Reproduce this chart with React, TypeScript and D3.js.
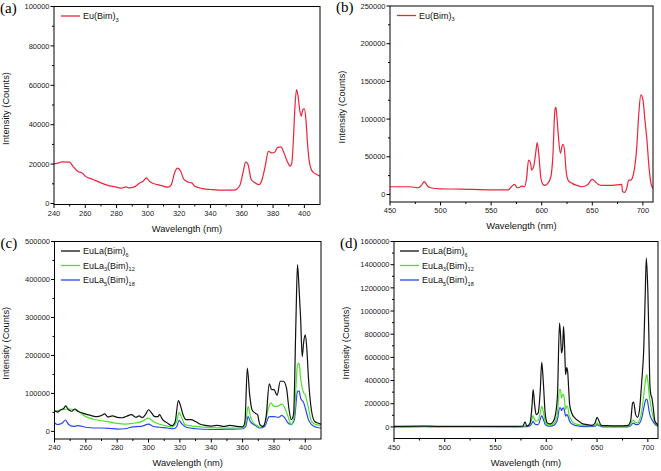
import { useEffect, useRef } from 'react';
import * as d3 from 'd3';

// ---- (a) excitation spectrum, Eu(Bim)3 ----
const waveA = [240, 243, 245, 250, 252, 255, 258, 260, 265, 270, 275, 280, 283, 286, 288, 291, 295, 297, 299, 301, 303, 306, 310, 313, 315, 317, 319, 321, 323, 326, 328, 330, 335, 340, 345, 350, 355, 357, 359, 361, 362.5, 364, 366, 368, 371, 373, 375, 377, 379, 381, 383, 385, 387, 389, 391, 392, 393, 394, 395, 396, 397, 398, 399, 400, 401, 402, 403, 405, 408, 410];
const intA = [20100, 20600, 21100, 21000, 19000, 16400, 15500, 13900, 12200, 10500, 9100, 8300, 7800, 8400, 7900, 8300, 10500, 11300, 13000, 11300, 10300, 9600, 8800, 8300, 9600, 15500, 18000, 16400, 12200, 10800, 10500, 8800, 7600, 7100, 6800, 6800, 6800, 7400, 9600, 16400, 21100, 19800, 12200, 10800, 9600, 12200, 19000, 26500, 25700, 26000, 28500, 28700, 25700, 21500, 19000, 20600, 32400, 49300, 57800, 54400, 47600, 44300, 47600, 48000, 42600, 30700, 22300, 16400, 14700, 13900];

// ---- (b) emission spectrum, Eu(Bim)3 ----
const waveB = [450, 470, 478, 481, 484, 487, 490, 500, 520, 550, 567, 570, 573, 576, 578, 580, 583, 585, 587, 589, 590, 592, 594, 595.5, 597, 599, 601, 603, 606, 609, 611, 613, 614, 615, 616.5, 618.5, 620, 621, 622.5, 624, 626, 630, 635, 640, 645, 650, 653, 656, 660, 670, 679, 680, 682, 684, 686, 688, 690, 692, 694, 696, 698, 700, 702, 704, 706, 708, 710];
const intB = [10200, 10200, 8900, 12000, 16900, 11500, 8900, 7500, 7100, 6200, 6200, 10200, 13300, 8900, 9300, 11100, 10200, 21300, 45700, 41300, 32400, 36900, 54600, 68800, 54600, 23500, 13800, 12000, 14700, 23500, 50200, 112000, 116000, 103000, 76800, 54600, 63500, 66600, 59000, 32400, 19100, 14700, 12000, 10200, 12400, 20000, 16900, 13300, 12000, 12000, 13300, 3600, 2700, 8000, 19100, 19100, 23500, 36900, 63500, 108000, 132000, 126000, 99000, 72400, 36900, 14700, 8000];

// ---- (c) excitation spectra, mixed Eu/La ----
const waveC1 = [240, 242, 244, 246, 247, 249, 251, 253, 255, 258, 261, 264, 267, 270, 272, 274, 277, 280, 283, 286, 289, 292, 294, 296, 298, 300, 302, 304, 306, 307, 309, 312, 315, 317, 319, 320.5, 322, 324, 327, 330, 333, 336, 340, 344, 348, 352, 356, 360, 361.5, 363, 364.5, 366, 368, 369.5, 371, 373, 375, 377, 378.5, 380, 382, 384, 386, 388, 389.5, 391, 392.5, 394, 395, 396, 397, 398, 399, 400, 401, 402, 404, 406, 408, 410];
const intC1 = [55000, 51000, 57000, 61000, 67000, 57000, 53000, 59000, 53000, 48000, 44000, 41000, 39000, 42000, 46000, 38000, 41000, 37000, 36000, 40000, 44000, 37000, 41000, 36000, 44000, 57000, 48000, 39000, 39000, 44000, 31000, 22000, 15000, 26000, 81000, 66000, 44000, 31000, 31000, 26000, 19000, 16000, 14000, 16000, 13000, 16000, 13000, 12000, 26000, 167000, 96000, 57000, 48000, 44000, 18000, 13000, 39000, 125000, 110000, 110000, 95000, 132000, 132000, 114000, 61000, 31000, 44000, 289000, 439000, 377000, 298000, 197000, 237000, 254000, 215000, 140000, 53000, 26000, 22000, 19000];
const waveC2 = [240, 245, 250, 255, 260, 265, 270, 275, 280, 285, 290, 295, 300, 303, 306, 310, 315, 318, 319.5, 321, 323, 326, 330, 340, 350, 360, 362, 363.5, 365, 367, 369, 371, 374, 376, 378, 380, 382, 385, 387, 389, 391, 393, 395, 396, 397, 399, 400, 402, 404, 407, 410];
const intC2 = [53000, 57000, 59000, 53000, 39000, 32000, 28000, 25000, 21000, 19000, 21000, 25000, 35000, 26000, 20000, 16000, 12000, 26000, 50000, 37000, 19000, 15000, 13000, 10000, 9000, 9000, 22000, 66000, 39000, 22000, 16000, 11000, 18000, 53000, 75000, 66000, 66000, 72000, 61000, 39000, 18000, 44000, 175000, 180000, 140000, 101000, 96000, 61000, 26000, 18000, 16000];
const waveC3 = [240, 242, 245, 247, 249, 252, 255, 260, 265, 270, 275, 280, 285, 290, 295, 300, 303, 307, 312, 316, 318, 319.5, 321, 324, 330, 340, 350, 360, 362, 363.5, 365, 368, 371, 374, 377, 380, 383, 385, 387, 389, 391, 393, 395, 396, 397, 399, 400, 402, 404, 407, 410];
const intC3 = [22000, 18000, 22000, 30000, 18000, 13000, 15000, 11000, 9000, 9000, 8000, 6000, 7000, 12000, 13000, 19000, 13000, 11000, 9000, 7000, 13000, 29000, 21000, 11000, 7000, 5000, 6000, 7000, 13000, 39000, 25000, 16000, 9000, 13000, 39000, 39000, 37000, 42000, 35000, 22000, 18000, 31000, 105000, 107000, 88000, 75000, 61000, 31000, 18000, 11000, 9000];

// ---- (d) emission spectra, mixed Eu/La ----
const waveD1 = [450, 480, 485, 500, 570, 577, 579, 581, 584, 586, 587, 588.5, 590, 592, 594, 595.5, 597, 599, 601, 604, 607, 609, 611, 613, 614, 615, 616, 617, 618, 619, 620, 621, 622, 623, 625, 628, 632, 636, 640, 645, 648, 650, 652, 654, 660, 670, 680, 683, 685, 686, 688, 690, 692, 694, 696, 697.5, 698.5, 700, 701, 702, 703, 704, 705, 707, 709, 710];
const intD1 = [5000, 6000, 6000, 5000, 5000, 6000, 43000, 6000, 34000, 190000, 322000, 192000, 106000, 120000, 307000, 557000, 394000, 106000, 34000, 26000, 49000, 106000, 276000, 896000, 796000, 638000, 681000, 868000, 695000, 451000, 511000, 480000, 336000, 192000, 120000, 78000, 49000, 26000, 20000, 14000, 34000, 83000, 49000, 14000, 11000, 9000, 11000, 49000, 207000, 215000, 106000, 83000, 164000, 394000, 681000, 1170000, 1457000, 1170000, 796000, 365000, 276000, 250000, 190000, 49000, 26000, 14000];
const waveD2 = [450, 480, 485, 570, 580, 584, 586, 587, 588.5, 590, 592, 594, 595.5, 597, 599, 601, 604, 607, 609, 611, 613, 614, 615, 616, 617, 618, 619, 620, 621, 622, 624, 627, 632, 640, 648, 650, 652, 655, 670, 680, 683, 685, 686, 688, 690, 692, 694, 696, 698, 699, 700, 701, 702, 704, 706, 708, 710];
const intD2 = [2000, 5000, 1000, 3000, 9000, 20000, 78000, 98000, 63000, 49000, 55000, 120000, 178000, 135000, 43000, 20000, 17000, 26000, 49000, 120000, 322000, 322000, 250000, 276000, 282000, 221000, 149000, 178000, 178000, 120000, 69000, 34000, 20000, 11000, 14000, 34000, 20000, 9000, 6000, 6000, 20000, 55000, 57000, 34000, 34000, 63000, 135000, 276000, 422000, 451000, 394000, 307000, 236000, 135000, 63000, 26000, 14000];
const waveD3 = [450, 480, 570, 580, 584, 586, 587, 588.5, 590, 592, 594, 595.5, 597, 599, 602, 606, 609, 611, 613, 614, 615, 616, 617, 618, 619, 620, 621, 622, 624, 628, 640, 648, 650, 652, 656, 680, 683, 685, 686, 688, 690, 692, 694, 696, 698, 699, 700, 701, 702, 704, 706, 708, 710];
const intD3 = [0, 3000, 0, 3000, 11000, 34000, 49000, 29000, 20000, 20000, 63000, 98000, 69000, 20000, 6000, 9000, 26000, 63000, 164000, 164000, 141000, 158000, 164000, 135000, 92000, 106000, 100000, 72000, 34000, 14000, 3000, 6000, 20000, 11000, 0, 0, 9000, 29000, 32000, 20000, 20000, 34000, 78000, 164000, 236000, 241000, 207000, 149000, 106000, 63000, 34000, 14000, 6000];

// legend names, "_n" marks a subscript
const nameSingle = 'Eu(Bim)_3';
const namesMixed = ['EuLa(Bim)_6', 'EuLa_3(Bim)_12', 'EuLa_5(Bim)_18'];

const RED = '#f0223a';
const BLACK = '#111111';
const GREEN = '#4be22c';
const BLUE = '#2a46ee';

interface Series { x: number[]; y: number[]; color: string; name: string }
interface PanelCfg {
  label: string
  box: { l: number; r: number; t: number; b: number }
  xDom: [number, number]; xStep: number
  yDom: [number, number]; yMax: number; yStep: number
  series: Series[]
  legendX: number
}

const panels: PanelCfg[] = [
  {
    label: '(a)', box: { l: 54, r: 320, t: 6.5, b: 204.5 },
    xDom: [240, 410], xStep: 20, yDom: [-500, 100000], yMax: 100000, yStep: 20000,
    series: [{ x: waveA, y: intA, color: RED, name: nameSingle }], legendX: 61,
  },
  {
    label: '(b)', box: { l: 390, r: 653, t: 6, b: 202 },
    xDom: [450, 710], xStep: 50, yDom: [-10000, 250000], yMax: 250000, yStep: 50000,
    series: [{ x: waveB, y: intB, color: RED, name: nameSingle }], legendX: 397,
  },
  {
    label: '(c)', box: { l: 54.5, r: 321, t: 241.5, b: 439 },
    xDom: [240, 410], xStep: 20, yDom: [-20000, 500000], yMax: 500000, yStep: 100000,
    series: [
      { x: waveC1, y: intC1, color: BLACK, name: namesMixed[0] },
      { x: waveC2, y: intC2, color: GREEN, name: namesMixed[1] },
      { x: waveC3, y: intC3, color: BLUE, name: namesMixed[2] },
    ], legendX: 61,
  },
  {
    label: '(d)', box: { l: 394, r: 658, t: 241.5, b: 438.5 },
    xDom: [450, 710], xStep: 50, yDom: [-100000, 1600000], yMax: 1600000, yStep: 200000,
    series: [
      { x: waveD1, y: intD1, color: BLACK, name: namesMixed[0] },
      { x: waveD2, y: intD2, color: GREEN, name: namesMixed[1] },
      { x: waveD3, y: intD3, color: BLUE, name: namesMixed[2] },
    ], legendX: 400,
  },
];

const FONT = '"Liberation Sans", Arial, sans-serif';

const drawPanel = (svg: any, p: PanelCfg) => {
  const { l, r, t, b } = p.box;
  const x = d3.scaleLinear().domain(p.xDom).range([l, r]);
  const y = d3.scaleLinear().domain(p.yDom).range([b, t]);
  const g = svg.append('g');

  // curves, clipped to the frame
  const clipId = 'clip' + p.label.replace(/[()]/g, '');
  g.append('clipPath').attr('id', clipId)
    .append('rect').attr('x', l).attr('y', t).attr('width', r - l).attr('height', b - t);
  const line = d3.line<[number, number]>()
    .x(d => x(d[0])).y(d => y(d[1]))
    .curve(d3.curveMonotoneX);
  // draw back to front: blue, green, black
  [...p.series].reverse().forEach(s => {
    g.append('path')
      .attr('d', line(s.x.map((v, i) => [v, s.y[i]] as [number, number])))
      .attr('fill', 'none').attr('stroke', s.color).attr('stroke-width', 1.2)
      .attr('clip-path', `url(#${clipId})`);
  });

  // frame
  g.append('rect').attr('x', l).attr('y', t).attr('width', r - l).attr('height', b - t)
    .attr('fill', 'none').attr('stroke', '#000').attr('stroke-width', 1);

  // x ticks
  const xMajor = d3.range(p.xDom[0], p.xDom[1] + 0.1, p.xStep);
  const xMinor = d3.range(p.xDom[0] + p.xStep / 2, p.xDom[1], p.xStep);
  xMajor.forEach(v => {
    g.append('line').attr('x1', x(v)).attr('x2', x(v)).attr('y1', b).attr('y2', b + 3.5).attr('stroke', '#000');
    g.append('text').attr('x', x(v)).attr('y', b + 11).attr('text-anchor', 'middle')
      .attr('font-size', 7.5).attr('font-family', FONT).attr('fill', '#222').text(v);
  });
  xMinor.forEach(v => {
    g.append('line').attr('x1', x(v)).attr('x2', x(v)).attr('y1', b).attr('y2', b + 2).attr('stroke', '#000');
  });

  // y ticks
  const yMajor = d3.range(0, p.yMax + 1, p.yStep);
  const yMinor = d3.range(p.yStep / 2, p.yMax, p.yStep);
  yMajor.forEach(v => {
    g.append('line').attr('x1', l - 3.5).attr('x2', l).attr('y1', y(v)).attr('y2', y(v)).attr('stroke', '#000');
    g.append('text').attr('x', l - 4.5).attr('y', y(v) + 2.7).attr('text-anchor', 'end')
      .attr('font-size', 7.5).attr('font-family', FONT).attr('fill', '#222').text(d3.format('d')(v));
  });
  yMinor.forEach(v => {
    g.append('line').attr('x1', l - 2).attr('x2', l).attr('y1', y(v)).attr('y2', y(v)).attr('stroke', '#000');
  });

  // axis titles
  g.append('text').attr('x', (l + r) / 2).attr('y', b + 27).attr('text-anchor', 'middle')
    .attr('font-size', 9.3).attr('font-family', FONT).attr('fill', '#111').text('Wavelength (nm)');
  const yMid = (t + b) / 2 + 3;
  g.append('text').attr('transform', `translate(${l - 45.5},${yMid}) rotate(-90)`)
    .attr('text-anchor', 'middle')
    .attr('font-size', 9.3).attr('font-family', FONT).attr('fill', '#111').text('Intensity (Counts)');

  // panel letter
  svg.append('text').attr('x', l - 54).attr('y', t + 6)
    .attr('font-size', 15).attr('font-family', '"Liberation Serif", "Times New Roman", serif')
    .attr('fill', '#000').text(p.label);

  // legend
  p.series.forEach((s, i) => {
    const ly = t + 9.5 + i * 14.5;
    g.append('line').attr('x1', p.legendX).attr('x2', p.legendX + 19).attr('y1', ly).attr('y2', ly)
      .attr('stroke', s.color).attr('stroke-width', 1.3);
    const txt = g.append('text').attr('x', p.legendX + 22).attr('y', ly + 3.3)
      .attr('font-size', 9).attr('font-family', FONT).attr('fill', '#111');
    let lowered = false;
    s.name.split(/(_\d+)/).filter(part => part.length > 0).forEach(part => {
      if (part.startsWith('_')) {
        txt.append('tspan').attr('font-size', 5.5).attr('dy', 2.5).text(part.slice(1));
        lowered = true;
      } else {
        const sp = txt.append('tspan').text(part);
        if (lowered) sp.attr('dy', -2.5);
        lowered = false;
      }
    });
  });
};

const App = () => {
  const svgRef = useRef<SVGSVGElement>(null);

  useEffect(() => {
    document.body.style.margin = '0';
    const svg = d3.select(svgRef.current);
    svg.selectAll('*').remove();
    panels.forEach(p => drawPanel(svg, p));
  }, []);

  return (
    <svg ref={svgRef} width={661} height={471} style={{ display: 'block', background: '#fff' }} />
  );
};

export default App;
